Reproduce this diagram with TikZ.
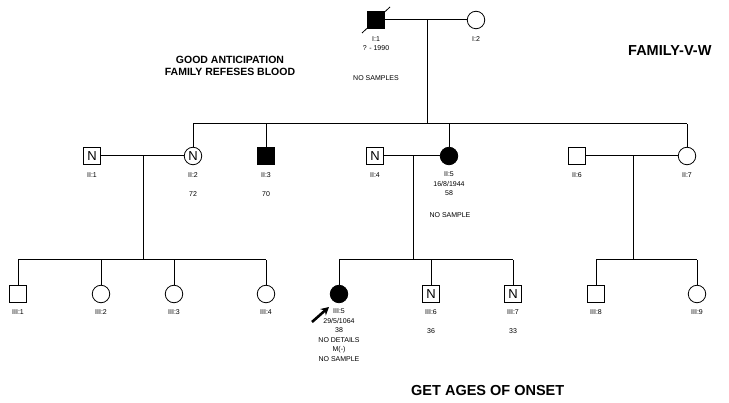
\documentclass[tikz,border=0pt]{standalone}
\usepackage{fontspec}
\setmainfont{Liberation Sans}
\usetikzlibrary{arrows.meta}
\begin{document}
\begin{tikzpicture}[x=1pt,y=-1pt,
  male/.style={draw, line width=0.8pt, minimum size=17pt, inner sep=0pt, fill=white},
  female/.style={circle, draw, line width=0.8pt, minimum size=17.5pt, inner sep=0pt, fill=white},
  aff/.style={fill=black},
  nmark/.style={font=\fontsize{13}{13}\selectfont},
  lbl/.style={font=\fontsize{7}{9.5}\selectfont, inner sep=0pt, align=center},
  ln/.style={line width=1pt},
  big/.style={font=\bfseries\fontsize{14.5}{18}\selectfont, inner sep=0pt},
  note/.style={font=\bfseries\fontsize{10.5}{12}\selectfont, inner sep=0pt, align=center}
]
\useasboundingbox (0,0) rectangle (729,403);
\fill[white] (0,0) rectangle (729,403);

% Generation I
\node[male, aff] (I1) at (376,20) {};
\node[female] (I2) at (476,20) {};
\coordinate (d1a) at (362,33);
\coordinate (d1b) at (390,7);
\draw[line width=0.8pt] (d1a) -- (d1b);
\node[lbl] (lI1) at (376,39) {I:1};
\node[lbl] (lI1b) at (376,48.5) {? - 1990};
\node[lbl] (lI2) at (476,39) {I:2};
\node[lbl] (nsI) at (376,78) {NO SAMPLES};

% Generation II
\node[male, nmark] (II1) at (92,156) {N};
\node[female, nmark] (II2) at (193,156) {N};
\node[male, aff] (II3) at (266,156) {};
\node[male, nmark] (II4) at (375,156) {N};
\node[female, aff] (II5) at (449,156) {};
\node[male] (II6) at (577,156) {};
\node[female] (II7) at (687,156) {};

\node[lbl] (lII1) at (92,175) {II:1};
\node[lbl] (lII2) at (193,175) {II:2};
\node[lbl] (aII2) at (193,194) {72};
\node[lbl] (lII3) at (266,175) {II:3};
\node[lbl] (aII3) at (266,194) {70};
\node[lbl] (lII4) at (375,175) {II:4};
\node[lbl, anchor=north] (lII5) at (449,171.5) {II:5\\16/8/1944\\58};
\node[lbl] (nsII5) at (450,215) {NO SAMPLE};
\node[lbl] (lII6) at (577,175) {II:6};
\node[lbl] (lII7) at (687,175) {II:7};

% Generation III
\node[male] (III1) at (18,294) {};
\node[female] (III2) at (101,294) {};
\node[female] (III3) at (174,294) {};
\node[female] (III4) at (266,294) {};
\node[female, aff] (III5) at (339,294) {};
\node[male, nmark] (III6) at (431,294) {N};
\node[male, nmark] (III7) at (513,294) {N};
\node[male] (III8) at (596,294) {};
\node[female] (III9) at (697,294) {};

\node[lbl] (lIII1) at (18,312) {III:1};
\node[lbl] (lIII2) at (101,312) {III:2};
\node[lbl] (lIII3) at (174,312) {III:3};
\node[lbl] (lIII4) at (266,312) {III:4};
\node[lbl, anchor=north] (lIII5) at (339,308.5) {III:5\\29/5/1064\\38\\NO DETAILS\\M(-)\\NO SAMPLE};
\node[lbl] (lIII6) at (431,312) {III:6};
\node[lbl] (aIII6) at (431,331) {36};
\node[lbl] (lIII7) at (513,312) {III:7};
\node[lbl] (aIII7) at (513,331) {33};
\node[lbl] (lIII8) at (596,312) {III:8};
\node[lbl] (lIII9) at (697,312) {III:9};

% proband arrow
\coordinate (pa) at (312,322);
\coordinate (pb) at (329,307);
\draw[line width=2.6pt, -{Stealth[length=8pt,width=8.5pt]}] (pa) -- (pb);

% Connectors: generation I family
\coordinate (m1) at (427,20);
\coordinate (s1) at (427,124);
\draw[ln] (I1) -- (I2);
\draw[ln] (m1) -- (s1);
\draw[ln] (II2.north |- s1) -- (II7.north |- s1);
\foreach \n in {II2,II3,II5,II7} \draw[ln] (\n) -- (\n.north |- s1);

% II:1 x II:2
\coordinate (m2) at (143,156);
\coordinate (s2) at (143,260);
\draw[ln] (II1) -- (II2);
\draw[ln] (m2) -- (s2);
\draw[ln] (III1.north |- s2) -- (III4.north |- s2);
\foreach \n in {III1,III2,III3,III4} \draw[ln] (\n) -- (\n.north |- s2);

% II:4 x II:5
\coordinate (m3) at (413,156);
\coordinate (s3) at (413,260);
\draw[ln] (II4) -- (II5);
\draw[ln] (m3) -- (s3);
\draw[ln] (III5.north |- s3) -- (III7.north |- s3);
\foreach \n in {III5,III6,III7} \draw[ln] (\n) -- (\n.north |- s3);

% II:6 x II:7
\coordinate (m4) at (633,156);
\coordinate (s4) at (633,260);
\draw[ln] (II6) -- (II7);
\draw[ln] (m4) -- (s4);
\draw[ln] (III8.north |- s4) -- (III9.north |- s4);
\foreach \n in {III8,III9} \draw[ln] (\n) -- (\n.north |- s4);

% Notes
\node[note] (n1) at (230,66) {GOOD ANTICIPATION\\FAMILY REFESES BLOOD};
\node[big, anchor=west] (fam) at (628,51) {FAMILY-V-W};
\node[big, anchor=west] (onset) at (411,391) {GET AGES OF ONSET};
\end{tikzpicture}
\end{document}
